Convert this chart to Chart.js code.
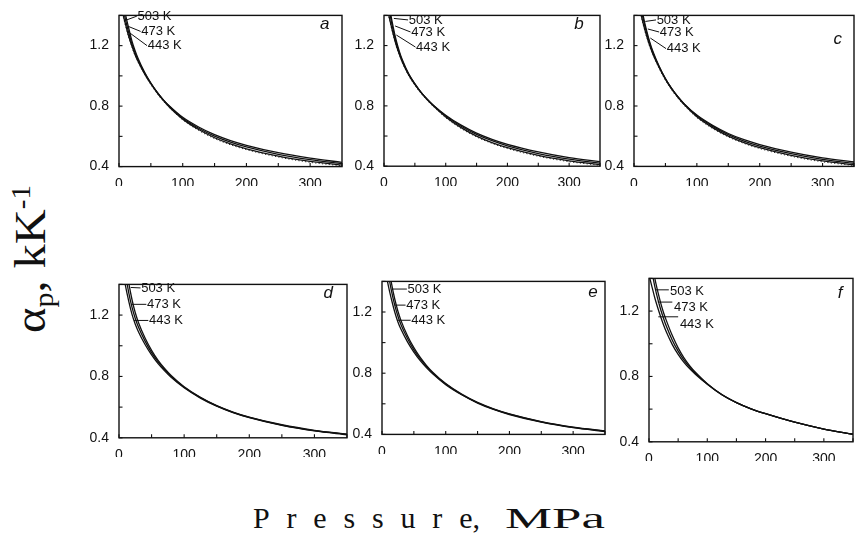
<!DOCTYPE html>
<html><head><meta charset="utf-8">
<script src="https://cdn.jsdelivr.net/npm/chart.js@4.4.1/dist/chart.umd.min.js"></script>
<style>
html,body{margin:0;padding:0;background:#fff;}
#wrap{position:relative;width:855px;height:546px;overflow:hidden;background:#fff;}
.pane{position:absolute;left:0;top:0;}
.ttl{position:absolute;left:0;top:0;white-space:nowrap;font-family:'Liberation Serif','Times New Roman',serif;color:#111;line-height:1;}
</style></head><body>
<div id="wrap">
  <div class="pane" id="pa"><canvas id="ca"></canvas></div>
  <div class="pane" id="pb"><canvas id="cb"></canvas></div>
  <div class="pane" id="pc"><canvas id="cc"></canvas></div>
  <div class="pane" id="pd"><canvas id="cd"></canvas></div>
  <div class="pane" id="pe"><canvas id="ce"></canvas></div>
  <div class="pane" id="pf"><canvas id="cf"></canvas></div>
  <div class="ttl" id="xt1" style="font-size:30px"><span id="xs">Pressur</span>e,</div>
  <div class="ttl" id="xt2" style="font-size:30px">MPa</div>
  <div class="ttl" id="yt" style="font-size:44px">α<span style="font-size:0.62em;position:relative;top:0.28em">p</span>, kK<span style="font-size:0.6em;position:relative;top:-0.55em">-1</span></div>
</div>
<script>
// ---------------- data ----------------
const pressure = [0,5,10,15,20,25,30,40,50,60,70,80,100,125,150,175,200,250,300,350];
const panelLetters = ['a','b','c','d','e','f'];
const tempLabels = ['503 K','473 K','443 K'];
const xTickLabels = ['0','100','200','300'];
const yTickLabels = ['0.4','0.8','1.2'];

const a503 = [1.68,1.53,1.41,1.32,1.235,1.17,1.115,1.025,0.952,0.89,0.836,0.789,0.714,0.645,0.591,0.550,0.518,0.469,0.434,0.410];
const a473 = [1.60,1.48,1.375,1.29,1.215,1.155,1.105,1.02,0.95,0.89,0.838,0.795,0.720,0.654,0.602,0.562,0.530,0.481,0.446,0.420];
const a443 = [1.53,1.43,1.345,1.265,1.20,1.142,1.095,1.015,0.948,0.89,0.84,0.798,0.726,0.662,0.611,0.572,0.541,0.492,0.456,0.428];
const aDots = [1.52,1.42,1.335,1.258,1.193,1.137,1.09,1.01,0.942,0.882,0.83,0.786,0.709,0.639,0.585,0.544,0.512,0.463,0.428,0.405];

const b503 = [1.76,1.57,1.43,1.32,1.23,1.16,1.102,1.013,0.947,0.89,0.842,0.80,0.727,0.656,0.600,0.557,0.523,0.472,0.436,0.411];
const b473 = [1.68,1.52,1.40,1.30,1.215,1.15,1.095,1.01,0.945,0.89,0.843,0.802,0.733,0.665,0.611,0.569,0.535,0.484,0.447,0.421];
const b443 = [1.60,1.46,1.36,1.275,1.20,1.14,1.088,1.006,0.943,0.89,0.845,0.805,0.738,0.672,0.619,0.578,0.545,0.495,0.457,0.430];
const bDots = [1.59,1.45,1.352,1.268,1.194,1.134,1.083,1.0,0.936,0.882,0.836,0.795,0.721,0.65,0.594,0.551,0.517,0.466,0.43,0.406];

const c503 = [1.86,1.66,1.51,1.39,1.30,1.225,1.162,1.063,0.982,0.915,0.858,0.809,0.729,0.657,0.601,0.558,0.524,0.473,0.436,0.411];
const c473 = [1.78,1.60,1.47,1.37,1.285,1.215,1.155,1.06,0.98,0.915,0.86,0.812,0.735,0.665,0.61,0.568,0.535,0.484,0.446,0.420];
const c443 = [1.70,1.54,1.43,1.34,1.265,1.20,1.145,1.055,0.977,0.913,0.86,0.814,0.740,0.672,0.618,0.577,0.545,0.494,0.456,0.429];
const cDots = [1.69,1.53,1.42,1.332,1.258,1.193,1.139,1.049,0.97,0.905,0.851,0.803,0.723,0.651,0.595,0.552,0.518,0.467,0.43,0.406];

const d503 = [2.00,1.76,1.56,1.41,1.30,1.215,1.15,1.05,0.97,0.905,0.852,0.806,0.733,0.664,0.610,0.568,0.535,0.485,0.449,0.424];
const d473 = [1.85,1.64,1.47,1.345,1.25,1.178,1.12,1.03,0.955,0.895,0.845,0.80,0.730,0.662,0.608,0.566,0.533,0.483,0.447,0.422];
const d443 = [1.70,1.52,1.39,1.29,1.205,1.14,1.09,1.008,0.94,0.883,0.836,0.794,0.726,0.659,0.606,0.564,0.531,0.481,0.445,0.420];

const e503 = [1.92,1.70,1.52,1.385,1.285,1.205,1.142,1.045,0.967,0.903,0.85,0.805,0.732,0.663,0.609,0.567,0.534,0.484,0.448,0.423];
const e473 = [1.80,1.60,1.45,1.335,1.245,1.172,1.115,1.027,0.953,0.893,0.843,0.80,0.729,0.661,0.607,0.565,0.532,0.482,0.446,0.421];
const e443 = [1.66,1.49,1.37,1.28,1.20,1.135,1.085,1.005,0.938,0.882,0.835,0.794,0.725,0.659,0.605,0.563,0.530,0.480,0.444,0.419];

const f503 = [1.62,1.50,1.40,1.32,1.25,1.19,1.14,1.05,0.975,0.914,0.865,0.824,0.756,0.689,0.640,0.602,0.572,0.520,0.478,0.446];
const f473 = [1.53,1.44,1.35,1.275,1.21,1.155,1.105,1.022,0.955,0.900,0.856,0.818,0.754,0.688,0.640,0.602,0.572,0.520,0.478,0.446];
const f443 = [1.42,1.35,1.28,1.22,1.165,1.115,1.07,0.995,0.935,0.886,0.846,0.812,0.752,0.688,0.640,0.602,0.572,0.520,0.478,0.446];

// ---------------- layout / styling ----------------
const panels = [
  {canvas:'ca', box:[119,15,342,175], series:[a503,a473,a443], dots:aDots, letter:[323,1.34],
   labels:[[12,1.37,28,1.395,29,1.395],[13,1.33,34,1.294,35,1.294],[15,1.29,44,1.20,45,1.20]]},
  {canvas:'cb', box:[384,15,600,175], series:[b503,b473,b443], dots:bDots, letter:[316,1.34],
   labels:[[16,1.38,39,1.37,40,1.37],[18,1.33,43,1.29,44,1.29],[20,1.27,51,1.19,52,1.19]]},
  {canvas:'cc', box:[634,15,854,175], series:[c503,c473,c443], dots:cDots, letter:[324,1.24],
   labels:[[18,1.36,35,1.37,36,1.37],[22,1.31,40,1.29,41,1.29],[26,1.25,51,1.18,52,1.18]]},
  {canvas:'cd', box:[119,284,347,446], series:[d503,d473,d443], dots:null, letter:[321,1.345],
   labels:[[18,1.38,33,1.377,34,1.377],[19,1.27,42,1.27,43,1.27],[23,1.165,45,1.165,46,1.165]]},
  {canvas:'ce', box:[382,281,605,443], series:[e503,e473,e443], dots:null, letter:[331,1.33],
   labels:[[17,1.35,39,1.35,40,1.35],[20,1.245,37,1.245,38,1.245],[25,1.146,45,1.146,46,1.146]]},
  {canvas:'cf', box:[649,278,853,453], series:[f503,f473,f443], dots:null, letter:[328,1.31],
   labels:[[11,1.33,34,1.33,36,1.32],[15,1.255,40,1.255,43,1.22],[16,1.165,50,1.165,53,1.12]]}
];

const framePlugin = {
  id:'frame',
  afterDatasetsDraw(chart){
    const {ctx, chartArea:ca, scales:{x,y}} = chart;
    ctx.save();
    ctx.strokeStyle='#111'; ctx.lineWidth=1.4;
    ctx.strokeRect(ca.left, ca.top, ca.right-ca.left, ca.bottom-ca.top);
    ctx.lineWidth=1.1;
    x.ticks.forEach(t=>{const px=x.getPixelForValue(t.value); ctx.beginPath(); ctx.moveTo(px,ca.bottom); ctx.lineTo(px,ca.bottom-3.5); ctx.stroke();});
    y.ticks.forEach(t=>{const py=y.getPixelForValue(t.value); ctx.beginPath(); ctx.moveTo(ca.left,py); ctx.lineTo(ca.left+3.5,py); ctx.stroke();});
    const o = chart.options.plugins.tlabels;
    ctx.font='13px "Liberation Sans", Arial, sans-serif';
    ctx.fillStyle='#111'; ctx.textBaseline='middle'; ctx.textAlign='left';
    o.labels.forEach((l,i)=>{
      ctx.beginPath();
      ctx.moveTo(x.getPixelForValue(l[0]), y.getPixelForValue(l[1]));
      ctx.lineTo(x.getPixelForValue(l[2]), y.getPixelForValue(l[3]));
      ctx.lineWidth=1; ctx.stroke();
      ctx.fillText(tempLabels[i], x.getPixelForValue(l[4]), y.getPixelForValue(l[5]));
    });
    ctx.font='italic 17px "Liberation Sans", Arial, sans-serif';
    ctx.textAlign='center';
    ctx.fillText(o.letter, x.getPixelForValue(o.letterPos[0]), y.getPixelForValue(o.letterPos[1]));
    ctx.restore();
  }
};

const tickFont = {family:'"Liberation Sans", Arial, sans-serif', size:14};

panels.forEach((p,pi)=>{
  const [l,t,r,b] = p.box;
  const datasets = p.series.map(s=>({
    data: pressure.map((v,i)=>({x:v,y:s[i]})),
    borderColor:'#111', borderWidth:1.3, pointRadius:0, fill:false,
    cubicInterpolationMode:'monotone'
  }));
  if (p.dots) datasets.push({
    data: pressure.map((v,i)=>({x:v,y:p.dots[i]})),
    borderColor:'#333', borderWidth:1, borderDash:[1.2,2.2], pointRadius:0, fill:false,
    cubicInterpolationMode:'monotone'
  });
  const W = (r-l)+60, H = (b-t)+40;
  const cv = document.getElementById(p.canvas);
  cv.width=W; cv.height=H;
  const chart = new Chart(cv, {
    type:'line',
    data:{datasets},
    options:{
      responsive:false, animation:false, devicePixelRatio:1,
      layout:{padding:{top:4,right:4,left:0,bottom:0}},
      plugins:{legend:{display:false}, tooltip:{enabled:false},
        tlabels:{labels:p.labels, letter:panelLetters[pi], letterPos:p.letter}},
      scales:{
        x:{type:'linear', min:0, max:350,
           grid:{display:false}, border:{display:false},
           ticks:{stepSize:50, autoSkip:false, maxRotation:0, padding:1, color:'#111', font:tickFont,
             callback:(v)=> xTickLabels.includes(String(v)) ? String(v) : ''},
           afterFit:(s)=>{s.height=20;}},
        y:{type:'linear', min:0.4, max:1.4,
           grid:{display:false}, border:{display:false},
           ticks:{stepSize:0.2, autoSkip:false, padding:2, color:'#111', font:tickFont,
             callback:(v)=>{const s=(Math.round(v*10)/10).toFixed(1); return yTickLabels.includes(s)?s:'';}},
           afterFit:(s)=>{s.width=30;}}
      }
    },
    plugins:[framePlugin]
  });
  let ca = chart.chartArea;
  const nW = Math.round(W + ((r-l)-(ca.right-ca.left)));
  const nH = Math.round(H + ((b-t)-(ca.bottom-ca.top)));
  chart.resize(nW, nH);
  ca = chart.chartArea;
  const div = cv.parentNode;
  div.style.left = (l - ca.left)+'px';
  div.style.top = (t - ca.top)+'px';
});

// ---------------- titles ----------------
function placeTitles(){
  const x1 = document.getElementById('xt1');
  const xs = document.getElementById('xs');
  xs.style.letterSpacing='0px';
  const nat = x1.getBoundingClientRect().width;
  const ls = ((480-253) - nat)/7;
  xs.style.letterSpacing = ls+'px';
  x1.style.left='253px'; x1.style.top=(530-0.89*30)+'px';

  const x2 = document.getElementById('xt2');
  x2.style.transform='none';
  const w2 = x2.getBoundingClientRect().width;
  x2.style.transformOrigin='0 0';
  x2.style.transform='scaleX('+(100/w2)+')';
  x2.style.left='505px'; x2.style.top=(530-0.89*30)+'px';

  const yt = document.getElementById('yt');
  yt.style.transform='none';
  const r = yt.getBoundingClientRect();
  const w=r.width, h=r.height;
  const cx=31, cy=259;
  yt.style.left=(cx-w/2)+'px'; yt.style.top=(cy-h/2)+'px';
  yt.style.transformOrigin='50% 50%';
  yt.style.transform='rotate(-90deg) scaleX('+(148/w)+')';
}
placeTitles();
if (document.fonts && document.fonts.ready) document.fonts.ready.then(placeTitles);
</script>
</body></html>
